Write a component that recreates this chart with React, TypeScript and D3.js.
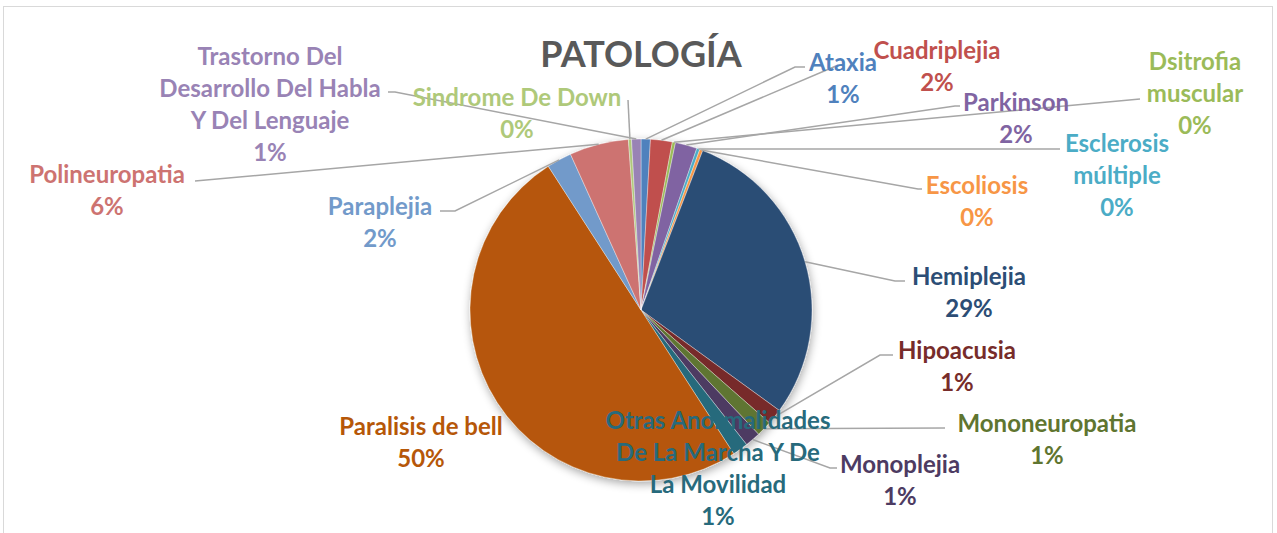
import React from "react";
import * as d3 from "d3";

const categories = [
  "Ataxia",
  "Cuadriplejia",
  "Dsitrofia muscular",
  "Parkinson",
  "Esclerosis múltiple",
  "Escoliosis",
  "Hemiplejia",
  "Hipoacusia",
  "Mononeuropatia",
  "Monoplejia",
  "Otras Anormalidades De La Marcha Y De La Movilidad",
  "Paralisis de bell",
  "Paraplejia",
  "Polineuropatia",
  "Sindrome De Down",
  "Trastorno Del Desarrollo Del Habla Y Del Lenguaje",
];
const values = [3, 7, 1, 7, 1, 1, 99, 5, 5, 5, 5, 170, 8, 19, 1, 3];
const sliceColors = [
  "#4F81BD", "#C0504D", "#9BBB59", "#8064A2", "#4BACC6", "#F79646",
  "#2C4D75", "#772C2A", "#5F7530", "#4D3B62", "#276A7C", "#B65708",
  "#729ACA", "#CD7371", "#AFC97A", "#9983B5",
];
const title = "PATOLOGÍA";

// label layout: center x, first line center y, words per line, leader path (elbow points)
const labelLayout: { x: number; y: number; wrap: number[]; leader: [number, number][] | null }[] = [
  { x: 843, y: 61, wrap: [1], leader: [[795, 67], [805, 67]] },
  { x: 937, y: 49, wrap: [1], leader: [[836, 66]] },
  { x: 1195, y: 60, wrap: [1, 1], leader: [[1140, 99]] },
  { x: 1016, y: 101, wrap: [1], leader: [[955, 106], [960, 106]] },
  { x: 1117, y: 142, wrap: [1, 1], leader: [[1060, 149]] },
  { x: 977, y: 184, wrap: [1], leader: [[918, 189], [922, 189]] },
  { x: 969, y: 275, wrap: [1], leader: [[895, 281], [905, 281]] },
  { x: 957, y: 349, wrap: [1], leader: [[880, 355], [893, 355]] },
  { x: 1047, y: 422, wrap: [1], leader: [[945, 428]] },
  { x: 900, y: 463, wrap: [1], leader: [[830, 468], [837, 468]] },
  { x: 718, y: 419, wrap: [2, 5, 2], leader: null },
  { x: 421, y: 425, wrap: [3], leader: null },
  { x: 380, y: 205, wrap: [1], leader: [[455, 211], [440, 211]] },
  { x: 107, y: 173, wrap: [1], leader: [[195, 181]] },
  { x: 517, y: 96, wrap: [3], leader: [[628, 100]] },
  { x: 270, y: 55, wrap: [2, 3, 3], leader: [[395, 92], [388, 92]] },
];

const W = 1277;
const H = 533;
const cx = 641;
const cy = 310;
const R = 171;
const FONT = "Lato, 'Open Sans', sans-serif";
const LINE = 32;

function wrapWords(text: string, wrap: number[]): string[] {
  const words = text.split(" ");
  const out: string[] = [];
  let i = 0;
  wrap.forEach((n, k) => {
    const take = k === wrap.length - 1 ? words.length - i : n;
    out.push(words.slice(i, i + take).join(" "));
    i += take;
  });
  return out;
}

export default function App() {
  const total = d3.sum(values);
  const pie = d3
    .pie<number>()
    .sort(null)
    .value((d) => d)
    .startAngle(0)
    .endAngle(2 * Math.PI);
  const arcs = pie(values);
  const arc = d3.arc<d3.PieArcDatum<number>>().innerRadius(0).outerRadius(R);
  const fmt = d3.format(".0%");

  return (
    <svg
      width={W}
      height={H}
      style={{ position: "absolute", left: 0, top: 0, background: "#fff" }}
      fontFamily={FONT}
    >
      <defs>
        <filter id="sh" x="-20%" y="-20%" width="140%" height="140%">
          <feGaussianBlur in="SourceAlpha" stdDeviation="5" />
          <feOffset dx="1" dy="3" result="b" />
          <feComponentTransfer>
            <feFuncA type="linear" slope="0.35" />
          </feComponentTransfer>
          <feMerge>
            <feMergeNode />
            <feMergeNode in="SourceGraphic" />
          </feMerge>
        </filter>
      </defs>
      <rect x={0} y={0} width={W} height={H} fill="#fff" />
      <rect x={3.5} y={6.5} width={1269} height={560} fill="#fff" stroke="#D9D9D9" strokeWidth={1} />
      <text
        x={641}
        y={53}
        textAnchor="middle"
        dominantBaseline="central"
        fontSize={36}
        fontWeight={700}
        fill="#595959"
      >
        {title}
      </text>
      <g transform={`translate(${cx},${cy})`} filter="url(#sh)">
        {arcs.map((a, i) => (
          <path key={i} d={arc(a) || ""} fill={sliceColors[i]} stroke="#fff" strokeWidth={0.6} strokeOpacity={0.6} />
        ))}
      </g>
      {arcs.map((a, i) => {
        const L = labelLayout[i];
        if (!L.leader) return null;
        const mid = (a.startAngle + a.endAngle) / 2;
        const sx = cx + R * Math.sin(mid);
        const sy = cy - R * Math.cos(mid);
        const pts: [number, number][] = [[sx, sy], ...L.leader];
        return (
          <path
            key={"l" + i}
            d={d3.line()(pts) || ""}
            fill="none"
            stroke="#A6A6A6"
            strokeWidth={1.5}
          />
        );
      })}
      {arcs.map((a, i) => {
        const L = labelLayout[i];
        const lines = [...wrapWords(categories[i], L.wrap), fmt(values[i] / total)];
        return (
          <text
            key={"t" + i}
            textAnchor="middle"
            fontSize={24}
            fontWeight={700}
            fill={sliceColors[i]}
          >
            {lines.map((s, k) => (
              <tspan key={k} x={L.x} y={L.y + k * LINE} dominantBaseline="central">
                {s}
              </tspan>
            ))}
          </text>
        );
      })}
    </svg>
  );
}
